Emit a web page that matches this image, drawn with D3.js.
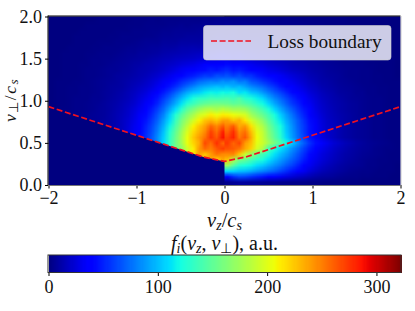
<!DOCTYPE html>
<html>
<head>
<meta charset="utf-8">
<script src="https://cdn.jsdelivr.net/npm/d3@7"></script>
<style>
  html, body { margin: 0; padding: 0; background: #fff; }
  svg { display: block; }
  text { font-family: "Liberation Serif", serif; fill: #111; }
  .tick text { font-size: 18px; }
</style>
</head>
<body>
<div id="chart"></div>
<script>
// loss boundary
var boundaryVz = [-2, -1.5, -1, -0.5, -0.25, 0, 0.25, 0.5, 1, 1.5, 2];
var boundaryVp = [0.93, 0.76, 0.59, 0.42, 0.335, 0.28, 0.335, 0.42, 0.59, 0.76, 0.93];

var xTicks = [-2, -1, 0, 1, 2];
var yTicks = [0, 0.5, 1, 1.5, 2];
var cbTicks = [0, 100, 200, 300];
var cbMax = 322;

// f(vz, vperp) estimated by eye, 60 columns over vz -2..2, rows from vperp=2 down to 0
var fRows = [
[0,0,0,0,0,0,0,0,1,1,1,1,1,1,2,2,2,3,2,3,3,3,3,4,3,3,4,3,4,4, 4,3,4,3,3,3,3,3,3,2,3,2,2,1,2,1,1,1,1,1,1,0,0,0,0,0,0,0,0,0],
[0,0,0,0,0,0,1,1,1,1,1,1,1,2,2,2,3,3,3,3,4,4,5,4,5,5,6,5,6,5, 6,5,5,6,5,5,4,4,4,3,3,3,3,3,2,2,2,1,1,1,1,1,1,0,0,0,0,0,0,0],
[0,0,0,0,0,1,1,1,1,1,1,2,2,2,3,3,3,4,4,5,5,6,6,6,6,7,6,7,7,8, 7,8,6,7,6,6,6,6,5,5,4,4,3,3,3,3,2,2,2,1,1,1,1,1,1,0,0,0,0,0],
[0,0,0,0,1,1,1,1,1,1,2,2,3,3,3,3,4,4,5,6,6,7,7,8,8,8,9,8,10,9, 9,10,8,8,8,8,8,7,6,6,5,5,4,3,3,3,3,3,2,2,1,1,1,1,1,0,0,0,0,0],
[0,0,0,0,1,1,1,1,2,2,2,3,3,3,4,5,6,6,6,8,8,8,10,10,10,10,11,11,12,13, 12,11,13,10,10,10,9,8,8,7,6,6,6,5,4,3,3,3,3,2,2,1,1,1,1,1,0,0,0,0],
[0,0,0,1,1,1,1,2,2,3,3,3,4,5,5,6,7,8,8,10,10,11,13,13,14,13,15,15,14,18, 16,18,14,15,13,13,12,11,10,9,8,8,7,6,6,5,4,3,3,3,2,2,2,1,1,1,1,0,0,0],
[0,0,1,1,1,1,2,2,3,3,3,4,5,6,6,8,8,9,10,12,13,14,15,16,17,18,18,20,22,24, 23,21,22,18,18,16,15,15,13,12,10,10,9,8,7,6,6,5,4,3,3,3,2,2,1,1,1,1,0,0],
[0,0,1,1,1,1,2,3,3,4,4,5,6,7,8,9,10,12,13,15,16,18,19,20,21,23,24,27,28,30, 30,26,27,24,22,21,20,18,16,15,14,13,11,10,9,8,7,6,5,4,3,3,3,2,2,1,1,1,1,0],
[0,0,1,1,1,2,2,3,3,4,5,6,7,8,10,11,13,14,16,18,20,22,25,27,29,32,36,38,37,40, 42,38,38,34,32,29,27,24,22,20,18,15,14,13,11,10,8,7,6,5,4,4,3,3,2,2,1,1,1,0],
[0,0,1,1,1,2,3,3,4,5,6,6,8,9,11,13,14,16,18,21,24,28,32,35,38,42,43,48,45,50, 52,46,48,44,40,38,34,30,28,25,22,19,17,15,13,11,10,8,7,6,5,4,4,3,3,2,1,1,1,0],
[0,0,1,1,1,2,3,3,4,5,6,8,9,10,12,14,16,19,22,26,30,34,39,45,48,53,58,56,64,62, 65,59,63,55,55,48,44,41,37,33,29,25,22,19,15,13,11,9,8,7,5,4,4,3,3,2,2,1,1,0],
[0,1,1,1,2,2,3,4,5,6,7,8,10,12,14,16,19,23,27,33,38,44,52,58,64,72,76,80,78,85, 82,86,76,78,66,62,55,50,44,40,35,30,26,22,18,15,12,11,9,7,6,5,4,3,3,2,2,1,1,1],
[0,1,1,2,2,3,3,4,5,6,8,9,10,13,16,19,22,26,32,39,46,54,64,74,82,90,95,98,102,98, 102,96,100,92,84,78,72,63,56,47,41,36,31,26,21,18,14,12,10,8,7,6,5,4,3,3,2,2,1,1],
[0,1,1,2,2,3,3,4,5,7,8,10,12,15,18,22,26,32,39,48,58,70,82,94,102,106,114,118,116,120, 118,122,110,114,102,98,88,78,68,60,51,42,36,31,25,21,17,14,12,9,8,7,5,5,3,3,2,2,1,1],
[0,1,1,2,3,3,3,5,5,7,9,11,13,16,20,25,30,37,46,58,70,84,98,112,122,130,132,138,136,138, 140,135,142,128,124,116,108,94,82,72,62,52,44,36,29,24,19,16,13,11,9,7,6,5,4,3,3,2,1,1],
[0,1,1,2,3,3,4,5,6,8,10,12,15,18,22,28,34,42,52,66,80,95,112,128,136,146,152,155,158,156, 155,150,152,146,140,130,120,108,94,82,70,58,50,41,33,26,21,17,14,12,10,8,7,5,4,3,3,2,1,1],
[0,1,2,2,3,3,4,5,7,8,10,13,16,20,25,31,38,48,60,74,92,110,128,148,160,172,180,184,178,186, 182,176,176,172,160,150,138,124,108,94,80,68,56,46,36,28,22,18,15,12,10,8,7,5,4,3,3,2,1,1],
[0,0,2,3,3,4,5,6,7,8,11,14,17,21,27,34,42,53,67,82,104,126,146,164,178,194,200,212,205,212, 210,205,200,196,176,164,152,138,122,106,90,76,62,50,39,30,24,19,16,13,11,9,7,5,4,3,3,2,1,1],
[0,0,0,0,0,0,5,6,7,9,11,14,18,23,29,37,46,58,72,90,110,134,158,176,194,210,226,232,224,238, 238,226,232,214,196,182,168,148,130,114,96,82,68,55,43,33,26,20,17,14,11,9,7,6,5,3,3,2,1,1],
[0,0,0,0,0,0,0,0,0,9,11,14,18,24,31,39,50,62,78,96,118,142,165,188,210,226,238,258,246,262, 250,262,235,242,216,194,180,158,138,122,102,86,70,58,45,34,27,21,18,14,11,9,7,6,5,3,3,2,1,1],
[0,0,0,0,0,0,0,0,0,0,0,0,0,25,32,41,52,65,82,102,126,150,174,198,218,232,246,272,254,282, 260,278,246,256,228,202,188,164,144,126,104,88,72,58,45,34,27,21,18,14,11,9,7,6,5,3,3,2,1,1],
[0,0,0,0,0,0,0,0,0,0,0,0,0,0,0,42,54,68,86,106,130,154,178,204,224,240,254,276,262,288, 270,282,252,264,234,206,190,168,148,130,108,90,74,60,46,35,28,22,18,14,11,9,7,6,5,3,3,2,1,1],
[0,0,0,0,0,0,0,0,0,0,0,0,0,0,0,0,0,0,0,108,132,156,176,204,220,234,268,256,278,258, 274,258,270,240,228,202,192,176,158,144,120,104,86,70,55,44,36,30,24,20,16,13,10,8,6,5,4,3,2,1],
[0,0,0,0,0,0,0,0,0,0,0,0,0,0,0,0,0,0,0,0,0,0,168,194,212,240,258,250,264,272, 266,262,254,236,222,196,182,140,124,112,100,86,74,60,48,38,31,26,21,17,14,11,9,7,6,4,3,2,2,1],
[0,0,0,0,0,0,0,0,0,0,0,0,0,0,0,0,0,0,0,0,0,0,0,0,0,0,226,240,254,246, 246,248,226,192,172,150,138,125,112,100,90,78,66,54,42,33,27,23,19,15,12,10,8,6,5,4,3,2,1,1],
[0,0,0,0,0,0,0,0,0,0,0,0,0,0,0,0,0,0,0,0,0,0,0,0,0,0,0,0,218,236, 228,182,158,152,140,130,122,112,100,90,80,70,60,48,38,30,25,21,17,14,11,9,7,5,4,3,2,2,1,1],
[0,0,0,0,0,0,0,0,0,0,0,0,0,0,0,0,0,0,0,0,0,0,0,0,0,0,0,0,0,0, 172,146,128,122,118,110,104,95,86,78,68,60,50,40,32,26,21,17,14,11,9,7,6,5,3,3,2,1,1,0],
[0,0,0,0,0,0,0,0,0,0,0,0,0,0,0,0,0,0,0,0,0,0,0,0,0,0,0,0,0,0, 110,108,102,100,95,88,82,76,70,62,54,46,38,32,25,20,16,13,11,9,7,5,4,3,3,2,1,1,1,0],
[0,0,0,0,0,0,0,0,0,0,0,0,0,0,0,0,0,0,0,0,0,0,0,0,0,0,0,0,0,0, 36,54,62,60,55,50,46,40,36,32,28,24,20,17,14,11,9,8,7,5,4,3,3,2,2,1,1,1,0,0],
[0,0,0,0,0,0,0,0,0,0,0,0,0,0,0,0,0,0,0,0,0,0,0,0,0,0,0,0,0,0, 4,6,8,8,7,7,6,5,5,4,4,3,3,3,2,2,2,1,1,1,1,1,1,0,0,0,0,0,0,0]
];

var width = 415, height = 311;
var plot = { left: 48.5, right: 400.5, top: 16.5, bottom: 185 };
var bar = { top: 255, bottom: 272.5 };

var svg = d3.select("#chart").append("svg")
    .attr("width", width)
    .attr("height", height);

var x = d3.scaleLinear().domain([-2, 2]).range([plot.left, plot.right]);
var y = d3.scaleLinear().domain([0, 2]).range([plot.bottom, plot.top]);

// matplotlib jet, channel by channel
var jetR = d3.scaleLinear().domain([0, 0.35, 0.66, 0.89, 1]).range([0, 0, 255, 255, 128]);
var jetG = d3.scaleLinear().domain([0, 0.125, 0.375, 0.64, 0.91, 1]).range([0, 0, 255, 255, 0, 0]);
var jetB = d3.scaleLinear().domain([0, 0.11, 0.34, 0.65, 1]).range([128, 255, 255, 0, 0]);
var norm = d3.scaleLinear().domain([0, cbMax]).range([0, 1]).clamp(true);
function jet(v) {
  var t = norm(v);
  return d3.rgb(jetR(t), jetG(t), jetB(t)).formatHex();
}

var nCols = fRows[0].length, nRows = fRows.length;
var half = nCols / 2;

// one pixel per cell, the browser smooths it when it is stretched over the axes
function heatImage(first, last, fillDown) {
  var canvas = document.createElement("canvas");
  canvas.width = last - first;
  canvas.height = nRows;
  var ctx = canvas.getContext("2d");
  for (var c = first; c < last; c++) {
    var above = 0;
    for (var r = 0; r < nRows; r++) {
      var v = fRows[r][c];
      // under the left branch the cells get clipped, keep the edge from going dark
      if (fillDown && v === 0) v = above;
      above = v;
      ctx.fillStyle = jet(v);
      ctx.fillRect(c - first, r, 1, 1);
    }
  }
  return canvas.toDataURL();
}

var defs = svg.append("defs");
var line = d3.line()
    .x(function(d) { return x(d[0]); })
    .y(function(d) { return y(d[1]); });

// left half stops at the boundary; it runs a little past vz=0 so no seam shows
var leftBranch = d3.zip(boundaryVz, boundaryVp).filter(function(d) { return d[0] <= 0; }).reverse();
defs.append("clipPath").attr("id", "leftClip")
  .append("path")
    .attr("d", line([[-2, 2], [0.01, 2], [0.01, boundaryVp[5]]].concat(leftBranch)) + "Z");

svg.append("rect")
    .attr("x", plot.left).attr("y", plot.top)
    .attr("width", plot.right - plot.left).attr("height", plot.bottom - plot.top)
    .attr("fill", jet(0));

svg.append("image")
    .attr("href", heatImage(0, half, true))
    .attr("x", x(-2)).attr("y", y(2))
    .attr("width", x(0) - x(-2) + 1).attr("height", y(0) - y(2))
    .attr("preserveAspectRatio", "none")
    .attr("clip-path", "url(#leftClip)");

svg.append("image")
    .attr("href", heatImage(half, nCols, false))
    .attr("x", x(0)).attr("y", y(2))
    .attr("width", x(2) - x(0)).attr("height", y(0) - y(2))
    .attr("preserveAspectRatio", "none");

// loss boundary
svg.append("path")
    .attr("d", line(d3.zip(boundaryVz, boundaryVp)))
    .attr("fill", "none")
    .attr("stroke", "#f01020")
    .attr("stroke-width", 1.7)
    .attr("stroke-dasharray", "6 2.6");

// axes
var xAxis = d3.axisBottom(x).tickValues(xTicks).tickSize(3.5).tickPadding(3)
    .tickFormat(function(d) { return d < 0 ? "\u2212" + (-d) : d; });
var yAxis = d3.axisLeft(y).tickValues(yTicks).tickSize(3.5).tickPadding(3)
    .tickFormat(d3.format(".1f"));

var gx = svg.append("g").attr("transform", "translate(0," + plot.bottom + ")").call(xAxis);
var gy = svg.append("g").attr("transform", "translate(" + plot.left + ",0)").call(yAxis);
gx.select(".domain").remove();
gy.select(".domain").remove();

// spines, the picture shows left and top darker
svg.append("line").attr("x1", 48).attr("x2", 48).attr("y1", plot.top - 1).attr("y2", plot.bottom).attr("stroke", "#000");
svg.append("line").attr("x1", 48).attr("x2", plot.right).attr("y1", 16).attr("y2", 16).attr("stroke", "#000");
svg.append("line").attr("x1", 401).attr("x2", 401).attr("y1", 16).attr("y2", plot.bottom).attr("stroke", "#c8c8c8");
svg.append("line").attr("x1", 48).attr("x2", 401).attr("y1", 185.5).attr("y2", 185.5).attr("stroke", "#777");

// legend
var legend = svg.append("g");
legend.append("rect")
    .attr("x", 203.5).attr("y", 25.5).attr("width", 187.5).attr("height", 34.5).attr("rx", 3)
    .attr("fill", "#fff").attr("fill-opacity", 0.8)
    .attr("stroke", "#ccc").attr("stroke-opacity", 0.6);
legend.append("line")
    .attr("x1", 211).attr("x2", 251).attr("y1", 41).attr("y2", 41)
    .attr("stroke", "#f01020").attr("stroke-width", 1.7).attr("stroke-dasharray", "6 2.6");
legend.append("text")
    .attr("x", 267.5).attr("y", 48)
    .style("font-size", "19.3px")
    .text("Loss boundary");

// math labels
var sub = 'font-size="14" dy="3"';
var up = 'dy="-3"';
svg.append("text")
    .attr("x", 224.5).attr("y", 226.5).attr("text-anchor", "middle")
    .style("font-size", "20.5px")
    .html('<tspan font-style="italic">v</tspan><tspan font-style="italic" ' + sub + '>z</tspan><tspan ' + up + '>/</tspan><tspan font-style="italic">c</tspan><tspan font-style="italic" ' + sub + '>s</tspan>');

svg.append("text")
    .attr("transform", "translate(15.6,100) rotate(-90)").attr("text-anchor", "middle")
    .style("font-size", "17.5px")
    .style("letter-spacing", "1.5px")
    .html('<tspan font-style="italic">v</tspan><tspan font-size="13" dy="2">\u22A5</tspan><tspan dy="-2">/</tspan><tspan font-style="italic">c</tspan><tspan font-style="italic" font-size="13" dy="2">s</tspan>');

svg.append("text")
    .attr("x", 224.5).attr("y", 250).attr("text-anchor", "middle")
    .style("font-size", "20px")
    .html('<tspan font-style="italic">f</tspan><tspan font-style="italic" ' + sub + '>i</tspan><tspan ' + up + '>(</tspan><tspan font-style="italic">v</tspan><tspan font-style="italic" ' + sub + '>z</tspan><tspan ' + up + '>, </tspan><tspan font-style="italic">v</tspan><tspan ' + sub + '>\u22A5</tspan><tspan ' + up + '>), a.u.</tspan>');

// colorbar
var cb = d3.scaleLinear().domain([0, cbMax]).range([plot.left, plot.right]);
svg.append("g").attr("shape-rendering", "crispEdges").selectAll("rect")
    .data(d3.range(0, cbMax, 1))
  .enter().append("rect")
    .attr("x", function(d) { return cb(d); })
    .attr("y", bar.top)
    .attr("width", cb(1) - cb(0) + 1)
    .attr("height", bar.bottom - bar.top)
    .attr("fill", function(d) { return jet(d + 0.5); });

var cbAxis = d3.axisBottom(cb).tickValues(cbTicks).tickSize(3.5).tickPadding(4).tickFormat(d3.format("d"));
var gc = svg.append("g").attr("transform", "translate(0," + bar.bottom + ")").call(cbAxis);
gc.select(".domain").remove();
svg.append("rect")
    .attr("x", 48).attr("y", 255).attr("width", 353).attr("height", 17.5)
    .attr("fill", "none").attr("stroke", "#333");
</script>
</body>
</html>
